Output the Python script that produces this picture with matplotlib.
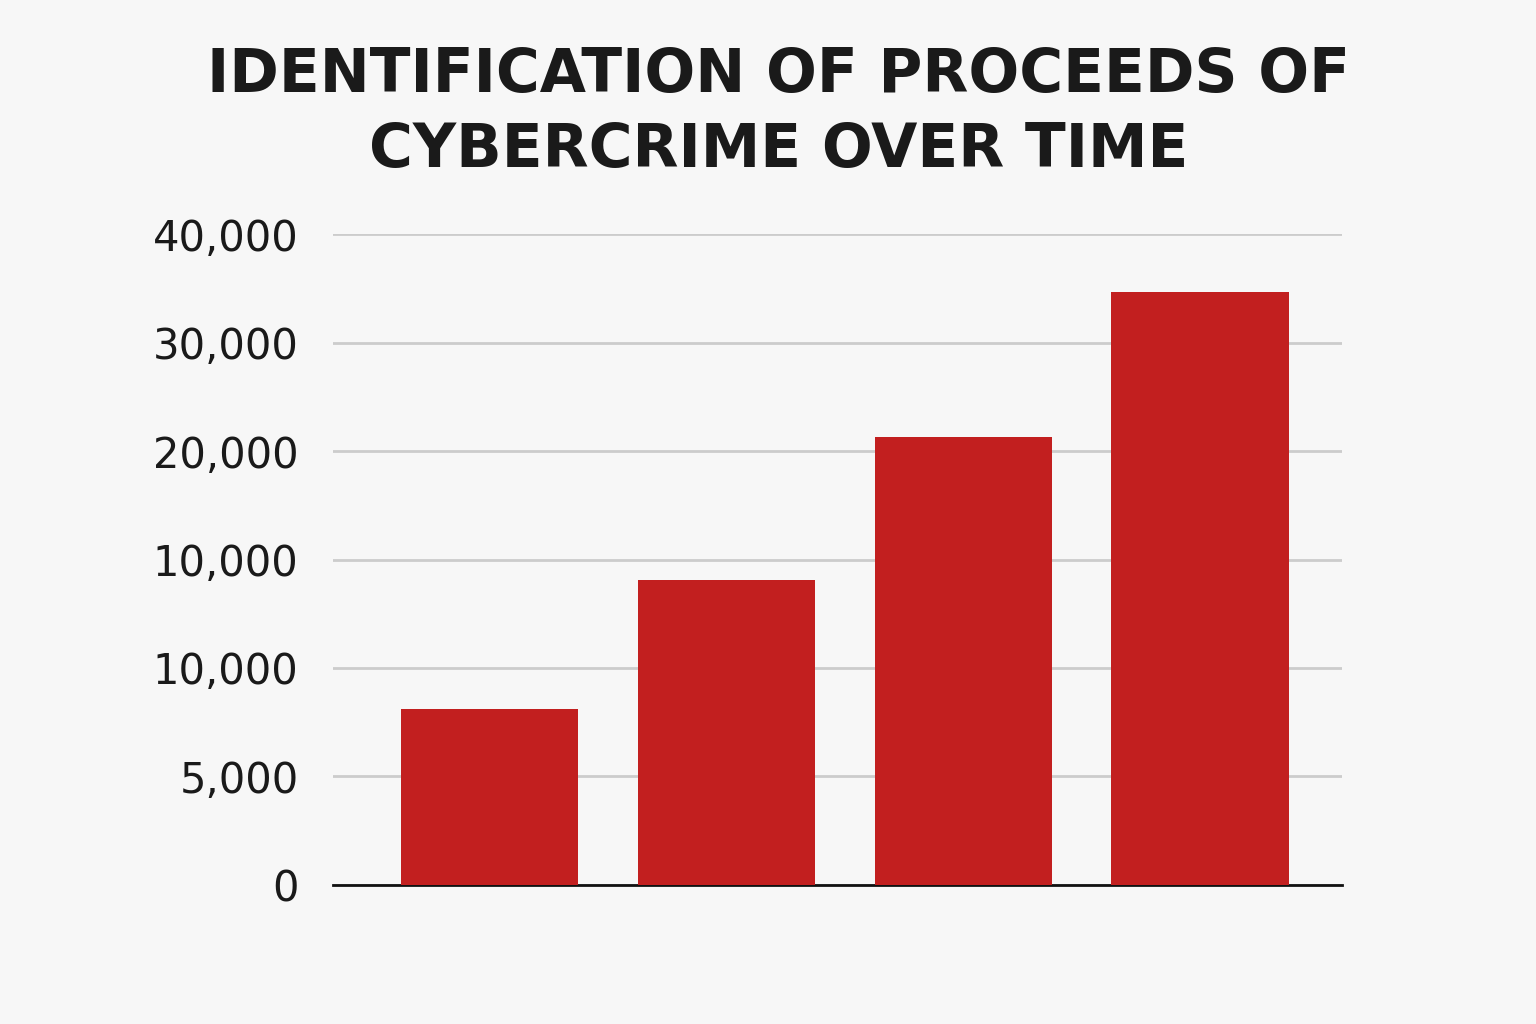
import matplotlib.pyplot as plt

# values in axis-grid units (the chart's y labels are not evenly numbered)
bar_values = [1.62, 2.81, 4.13, 5.47]
tick_pos = [0, 1, 2, 3, 4, 5, 6]
tick_labels = ["0", "5,000", "10,000", "10,000", "20,000", "30,000", "40,000"]

fig = plt.figure(figsize=(15.36, 10.24), dpi=100, facecolor="#f7f7f7")
ax = fig.add_axes([0.217, 0.136, 0.657, 0.635])
ax.set_facecolor("#f7f7f7")

ax.bar(range(len(bar_values)), bar_values, width=0.75, color="#c21f1f", zorder=3)
ax.set_xlim(-0.66, 3.6)
ax.set_ylim(0, 6)
ax.set_yticks(tick_pos)
ax.set_yticklabels(tick_labels, fontsize=30, color="#1a1a1a")
ax.set_xticks([])
ax.grid(axis="y", color="#cccccc", linewidth=2, zorder=0)
for s in ["top", "right", "left"]:
    ax.spines[s].set_visible(False)
ax.spines["bottom"].set_linewidth(2)
ax.spines["bottom"].set_color("#111111")
ax.tick_params(axis="y", length=0, pad=25)

fig.text(0.507, 0.89, "IDENTIFICATION OF PROCEEDS OF\nCYBERCRIME OVER TIME",
         ha="center", va="center", fontsize=43, fontweight="bold",
         color="#1a1a1a", linespacing=1.35)

fig.savefig("out.png", facecolor=fig.get_facecolor())
